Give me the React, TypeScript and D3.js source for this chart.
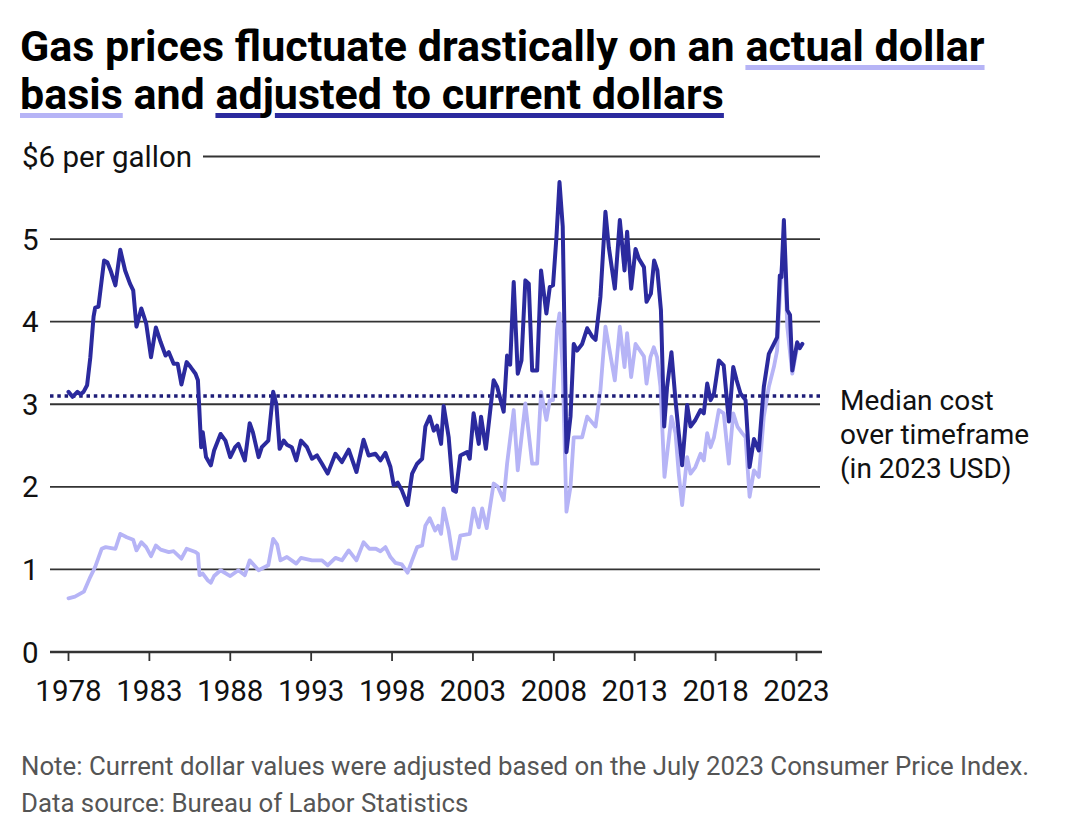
import { useRef, useEffect } from "react";
import * as d3 from "d3";

// Adjusted to July 2023 dollars (dark line)
const adjustedDates = [
  1978.0, 1978.25, 1978.55, 1978.75, 1978.93, 1979.15, 1979.35, 1979.55, 1979.65, 1979.85,
  1980.2, 1980.4, 1980.6, 1980.9, 1981.2, 1981.5, 1981.8, 1982.0, 1982.2, 1982.5,
  1982.8, 1983.1, 1983.4, 1983.7, 1984.0, 1984.2, 1984.5, 1984.75, 1984.98, 1985.3,
  1985.55, 1985.85, 1986.0, 1986.2, 1986.3, 1986.5, 1986.8, 1987.0, 1987.4, 1987.7,
  1988.0, 1988.3, 1988.5, 1988.9, 1989.2, 1989.4, 1989.75, 1989.95, 1990.35, 1990.65,
  1990.85, 1991.05, 1991.3, 1991.5, 1991.8, 1992.08, 1992.37, 1992.74, 1993.05, 1993.36,
  1993.67, 1994.02, 1994.5, 1994.9, 1995.32, 1995.8, 1996.24, 1996.55, 1996.97, 1997.28,
  1997.59, 1997.9, 1998.1, 1998.35, 1998.6, 1998.96, 1999.24, 1999.55, 1999.86, 2000.06,
  2000.33, 2000.58, 2000.78, 2001.03, 2001.19, 2001.5, 2001.77, 2001.95, 2002.22, 2002.64,
  2002.8, 2003.04, 2003.36, 2003.5, 2003.8, 2004.28, 2004.5, 2004.9, 2005.11, 2005.3,
  2005.52, 2005.77, 2006.0, 2006.24, 2006.45, 2006.66, 2006.97, 2007.21, 2007.54, 2007.75,
  2007.95, 2008.16, 2008.35, 2008.55, 2008.78, 2009.03, 2009.23, 2009.44, 2009.75, 2010.06,
  2010.37, 2010.58, 2010.88, 2011.19, 2011.4, 2011.77, 2012.08, 2012.37, 2012.53, 2012.78,
  2013.05, 2013.26, 2013.57, 2013.73, 2014.0, 2014.2, 2014.4, 2014.62, 2014.82, 2015.0,
  2015.27, 2015.52, 2015.72, 2015.93, 2016.24, 2016.45, 2016.75, 2017.07, 2017.27, 2017.48,
  2017.69, 2017.9, 2018.2, 2018.5, 2018.82, 2019.09, 2019.3, 2019.54, 2019.85, 2020.1,
  2020.37, 2020.67, 2020.98, 2021.29, 2021.6, 2021.8, 2021.97, 2022.07, 2022.22, 2022.43,
  2022.6, 2022.74, 2023.04, 2023.2, 2023.36,
];
const adjustedValues = [
  3.15, 3.09, 3.15, 3.12, 3.15, 3.23, 3.57, 4.06, 4.17, 4.18,
  4.74, 4.72, 4.62, 4.44, 4.87, 4.62, 4.46, 4.38, 3.94, 4.16,
  3.98, 3.57, 3.93, 3.75, 3.59, 3.63, 3.49, 3.49, 3.24, 3.51,
  3.45, 3.37, 3.29, 2.48, 2.66, 2.36, 2.26, 2.44, 2.64, 2.56,
  2.36, 2.48, 2.52, 2.32, 2.77, 2.66, 2.36, 2.48, 2.56, 3.15,
  3.0, 2.46, 2.56, 2.51, 2.48, 2.32, 2.56, 2.48, 2.34, 2.38,
  2.28, 2.16, 2.4, 2.3, 2.45, 2.18, 2.57, 2.38, 2.4, 2.32,
  2.41, 2.24, 2.02, 2.05, 1.96, 1.78, 2.16, 2.28, 2.34, 2.73,
  2.85, 2.68, 2.74, 2.52, 2.98, 2.6, 1.96, 1.94, 2.38, 2.42,
  2.34, 2.89, 2.52, 2.85, 2.46, 3.29, 3.21, 2.91, 3.59, 3.48,
  4.48, 3.37, 3.53, 4.5, 4.46, 3.41, 3.41, 4.62, 4.1, 4.42,
  4.44, 5.02, 5.69, 5.15, 2.42, 2.85, 3.73, 3.65, 3.73, 3.92,
  3.82, 3.78, 4.3, 5.33, 4.9, 4.4, 5.23, 4.62, 5.09, 4.4,
  4.88, 4.76, 4.66, 4.24, 4.34, 4.74, 4.62, 4.14, 2.73, 3.21,
  3.63, 3.05, 2.65, 2.26, 2.99, 2.73, 2.81, 2.93, 2.89, 3.25,
  3.05, 3.13, 3.53, 3.47, 2.79, 3.45, 3.29, 3.13, 3.05, 2.24,
  2.58, 2.44, 3.21, 3.61, 3.73, 3.81, 4.56, 4.54, 5.23, 4.14,
  4.08, 3.41, 3.75, 3.68, 3.73,
];

// Actual (nominal) dollars (light line)
const actualDates = [
  1978.0, 1978.4, 1978.95, 1979.35, 1979.65, 1980.05, 1980.3, 1980.9, 1981.2, 1981.6,
  1982.0, 1982.2, 1982.5, 1982.8, 1983.1, 1983.4, 1983.7, 1984.2, 1984.5, 1984.98,
  1985.3, 1985.85, 1986.0, 1986.1, 1986.3, 1986.6, 1986.8, 1987.0, 1987.4, 1988.0,
  1988.5, 1988.9, 1989.2, 1989.75, 1990.35, 1990.65, 1990.9, 1991.1, 1991.5, 1992.08,
  1992.37, 1993.05, 1993.67, 1994.02, 1994.5, 1994.9, 1995.32, 1995.8, 1996.24, 1996.6,
  1997.0, 1997.28, 1997.59, 1997.9, 1998.2, 1998.6, 1998.96, 1999.24, 1999.55, 1999.86,
  2000.06, 2000.33, 2000.66, 2000.85, 2001.03, 2001.19, 2001.5, 2001.77, 2001.95, 2002.22,
  2002.8, 2003.04, 2003.36, 2003.57, 2003.85, 2004.28, 2004.54, 2004.9, 2005.11, 2005.52,
  2005.77, 2006.24, 2006.66, 2006.97, 2007.21, 2007.54, 2007.75, 2007.95, 2008.2, 2008.35,
  2008.55, 2008.78, 2009.03, 2009.23, 2009.75, 2010.06, 2010.58, 2010.88, 2011.19, 2011.77,
  2012.08, 2012.37, 2012.53, 2012.78, 2013.05, 2013.57, 2013.73, 2013.97, 2014.18, 2014.38,
  2014.59, 2014.84, 2015.05, 2015.27, 2015.52, 2015.72, 2015.93, 2016.24, 2016.45, 2016.75,
  2017.07, 2017.27, 2017.48, 2017.69, 2017.9, 2018.2, 2018.5, 2018.82, 2019.09, 2019.35,
  2019.64, 2019.85, 2020.1, 2020.37, 2020.67, 2020.98, 2021.29, 2021.6, 2021.8, 2022.0,
  2022.22, 2022.43, 2022.74, 2023.04, 2023.36,
];
const actualValues = [
  0.65, 0.67, 0.73, 0.91, 1.03, 1.25, 1.27, 1.25, 1.43, 1.39,
  1.36, 1.23, 1.33, 1.27, 1.16, 1.29, 1.24, 1.21, 1.22, 1.13,
  1.25, 1.21, 1.19, 0.93, 0.95, 0.87, 0.84, 0.92, 0.99, 0.92,
  0.99, 0.93, 1.11, 0.99, 1.05, 1.37, 1.3, 1.11, 1.15, 1.07,
  1.14, 1.11, 1.11, 1.05, 1.14, 1.11, 1.23, 1.11, 1.33, 1.25,
  1.25, 1.22, 1.27, 1.15, 1.08, 1.06, 0.96, 1.11, 1.27, 1.29,
  1.53, 1.62, 1.47, 1.53, 1.43, 1.74, 1.47, 1.13, 1.13, 1.41,
  1.43, 1.74, 1.51, 1.74, 1.5, 2.04, 2.0, 1.84, 2.28, 2.93,
  2.2, 3.01, 2.28, 2.28, 3.15, 2.81, 3.05, 3.05, 3.9, 4.1,
  3.41, 1.7, 2.0, 2.6, 2.6, 2.85, 2.73, 3.17, 3.94, 3.29,
  3.94, 3.45, 3.86, 3.33, 3.73, 3.58, 3.25, 3.57, 3.69, 3.57,
  3.21, 2.12, 2.48, 2.85, 2.65, 2.16, 1.78, 2.36, 2.16, 2.24,
  2.4, 2.32, 2.65, 2.48, 2.6, 2.93, 2.89, 2.28, 2.89, 2.73,
  2.65, 2.6, 1.88, 2.2, 2.12, 2.85, 3.21, 3.45, 3.65, 4.42,
  5.02, 3.94, 3.37, 3.69, 3.73,
];

const medianCost = 3.1;
const yTicks = [0, 1, 2, 3, 4, 5, 6];
const xTicks = [1978, 1983, 1988, 1993, 1998, 2003, 2008, 2013, 2018, 2023];
const annotationLines = ["Median cost", "over timeframe", "(in 2023 USD)"];
const noteLines = [
  "Note: Current dollar values were adjusted based on the July 2023 Consumer Price Index.",
  "Data source: Bureau of Labor Statistics",
];

const DARK = "#2b2a9e";
const LIGHT = "#b6b4f6";
const MEDIAN = "#1e1d78";
const GRID = "#333333";
const FONT = "Roboto, 'Noto Sans', sans-serif";

export default function App() {
  const svgRef = useRef<SVGSVGElement>(null);

  useEffect(() => {
    if (!svgRef.current) return;
    const width = 1080;
    const height = 840;
    const svg = d3.select(svgRef.current);
    svg.selectAll("*").remove();
    svg.attr("viewBox", `0 0 ${width} ${height}`).attr("width", width).attr("height", height);

    svg.append("rect").attr("width", width).attr("height", height).attr("fill", "#fff");

    // Title with coloured underlines (gap under the "j" descender, like skip-ink)
    const titleLines = [
      { text: "Gas prices fluctuate drastically on an actual dollar", y: 61, marks: [{ word: "actual dollar", color: LIGHT }] },
      {
        text: "basis and adjusted to current dollars",
        y: 109,
        marks: [
          { word: "basis", color: LIGHT },
          { word: "adjusted to current dollars", color: DARK },
        ],
      },
    ];
    titleLines.forEach((line) => {
      const underlines = svg.append("g");
      const t = svg
        .append("text")
        .attr("x", 20)
        .attr("y", line.y)
        .attr("font-family", FONT)
        .attr("font-weight", 700)
        .attr("font-size", 43)
        .attr("fill", "#000")
        .text(line.text);
      const node = t.node() as SVGTextElement;
      line.marks.forEach((m) => {
        const i = line.text.indexOf(m.word);
        const x0 = node.getStartPositionOfChar(i).x;
        const x1 = node.getEndPositionOfChar(i + m.word.length - 1).x;
        const segs: [number, number][] = [];
        const j = m.word.indexOf("j");
        if (j >= 0) {
          const jx0 = node.getStartPositionOfChar(i + j).x - 1;
          const jx1 = node.getEndPositionOfChar(i + j).x + 1;
          segs.push([x0, jx0], [jx1, x1]);
        } else {
          segs.push([x0, x1]);
        }
        segs.forEach(([a, b]) =>
          underlines
            .append("rect")
            .attr("x", a)
            .attr("y", line.y + 4)
            .attr("width", b - a)
            .attr("height", 5)
            .attr("fill", m.color)
        );
      });
    });

    const x = d3.scaleLinear().domain([1978, 2023]).range([68.5, 796.5]);
    const y = d3.scaleLinear().domain([0, 6]).range([652, 156.5]);
    const gridLeft = 50;
    const gridRight = 820;

    // Grid lines
    svg
      .append("g")
      .selectAll("line")
      .data(yTicks)
      .join("line")
      .attr("x1", (d) => (d === 6 ? 203 : gridLeft))
      .attr("x2", (d) => (d === 0 ? gridRight + 2 : gridRight))
      .attr("y1", (d) => y(d))
      .attr("y2", (d) => y(d))
      .attr("stroke", GRID)
      .attr("stroke-width", (d) => (d === 0 ? 2.5 : 1.8));

    // Y labels
    svg
      .append("g")
      .selectAll("text")
      .data(yTicks)
      .join("text")
      .attr("x", 22)
      .attr("y", (d) => y(d))
      .attr("dy", "0.36em")
      .attr("font-family", FONT)
      .attr("font-size", 29.5)
      .attr("fill", "#111")
      .text((d) => (d === 6 ? "$6 per gallon" : String(d)));

    // X ticks and labels
    const xg = svg.append("g");
    xg.selectAll("line")
      .data(xTicks)
      .join("line")
      .attr("x1", (d) => x(d))
      .attr("x2", (d) => x(d))
      .attr("y1", y(0))
      .attr("y2", y(0) + 9)
      .attr("stroke", GRID)
      .attr("stroke-width", 1.8);
    xg.selectAll("text")
      .data(xTicks)
      .join("text")
      .attr("x", (d) => x(d))
      .attr("y", 701)
      .attr("text-anchor", "middle")
      .attr("font-family", FONT)
      .attr("font-size", 29.5)
      .attr("fill", "#111")
      .text((d) => String(d));

    const lineGen = d3
      .line<[number, number]>()
      .x((d) => x(d[0]))
      .y((d) => y(d[1]))
      .curve(d3.curveLinear);

    const actual: [number, number][] = actualDates.map((d, i) => [d, actualValues[i]]);
    const adjusted: [number, number][] = adjustedDates.map((d, i) => [d, adjustedValues[i]]);

    svg
      .append("path")
      .attr("d", lineGen(actual) ?? "")
      .attr("fill", "none")
      .attr("stroke", LIGHT)
      .attr("stroke-width", 3.8)
      .attr("stroke-linejoin", "round")
      .attr("stroke-linecap", "round");

    // Median line
    svg
      .append("line")
      .attr("x1", gridLeft)
      .attr("x2", gridRight)
      .attr("y1", y(medianCost))
      .attr("y2", y(medianCost))
      .attr("stroke", MEDIAN)
      .attr("stroke-width", 3.5)
      .attr("stroke-dasharray", "3.5,3.8");

    svg
      .append("path")
      .attr("d", lineGen(adjusted) ?? "")
      .attr("fill", "none")
      .attr("stroke", DARK)
      .attr("stroke-width", 4)
      .attr("stroke-linejoin", "round")
      .attr("stroke-linecap", "round");

    // Annotation
    svg
      .append("g")
      .selectAll("text")
      .data(annotationLines)
      .join("text")
      .attr("x", 840)
      .attr("y", (_, i) => 410 + i * 34)
      .attr("font-family", FONT)
      .attr("font-size", 28)
      .attr("fill", "#111")
      .text((d) => d);

    // Footer
    svg
      .append("g")
      .selectAll("text")
      .data(noteLines)
      .join("text")
      .attr("x", 21)
      .attr("y", (_, i) => 775 + i * 37)
      .attr("font-family", FONT)
      .attr("font-size", 25.8)
      .attr("fill", "#555")
      .text((d) => d);
  }, []);

  return (
    <div style={{ position: "absolute", left: 0, top: 0 }}>
      <svg ref={svgRef} style={{ display: "block" }} />
    </div>
  );
}
